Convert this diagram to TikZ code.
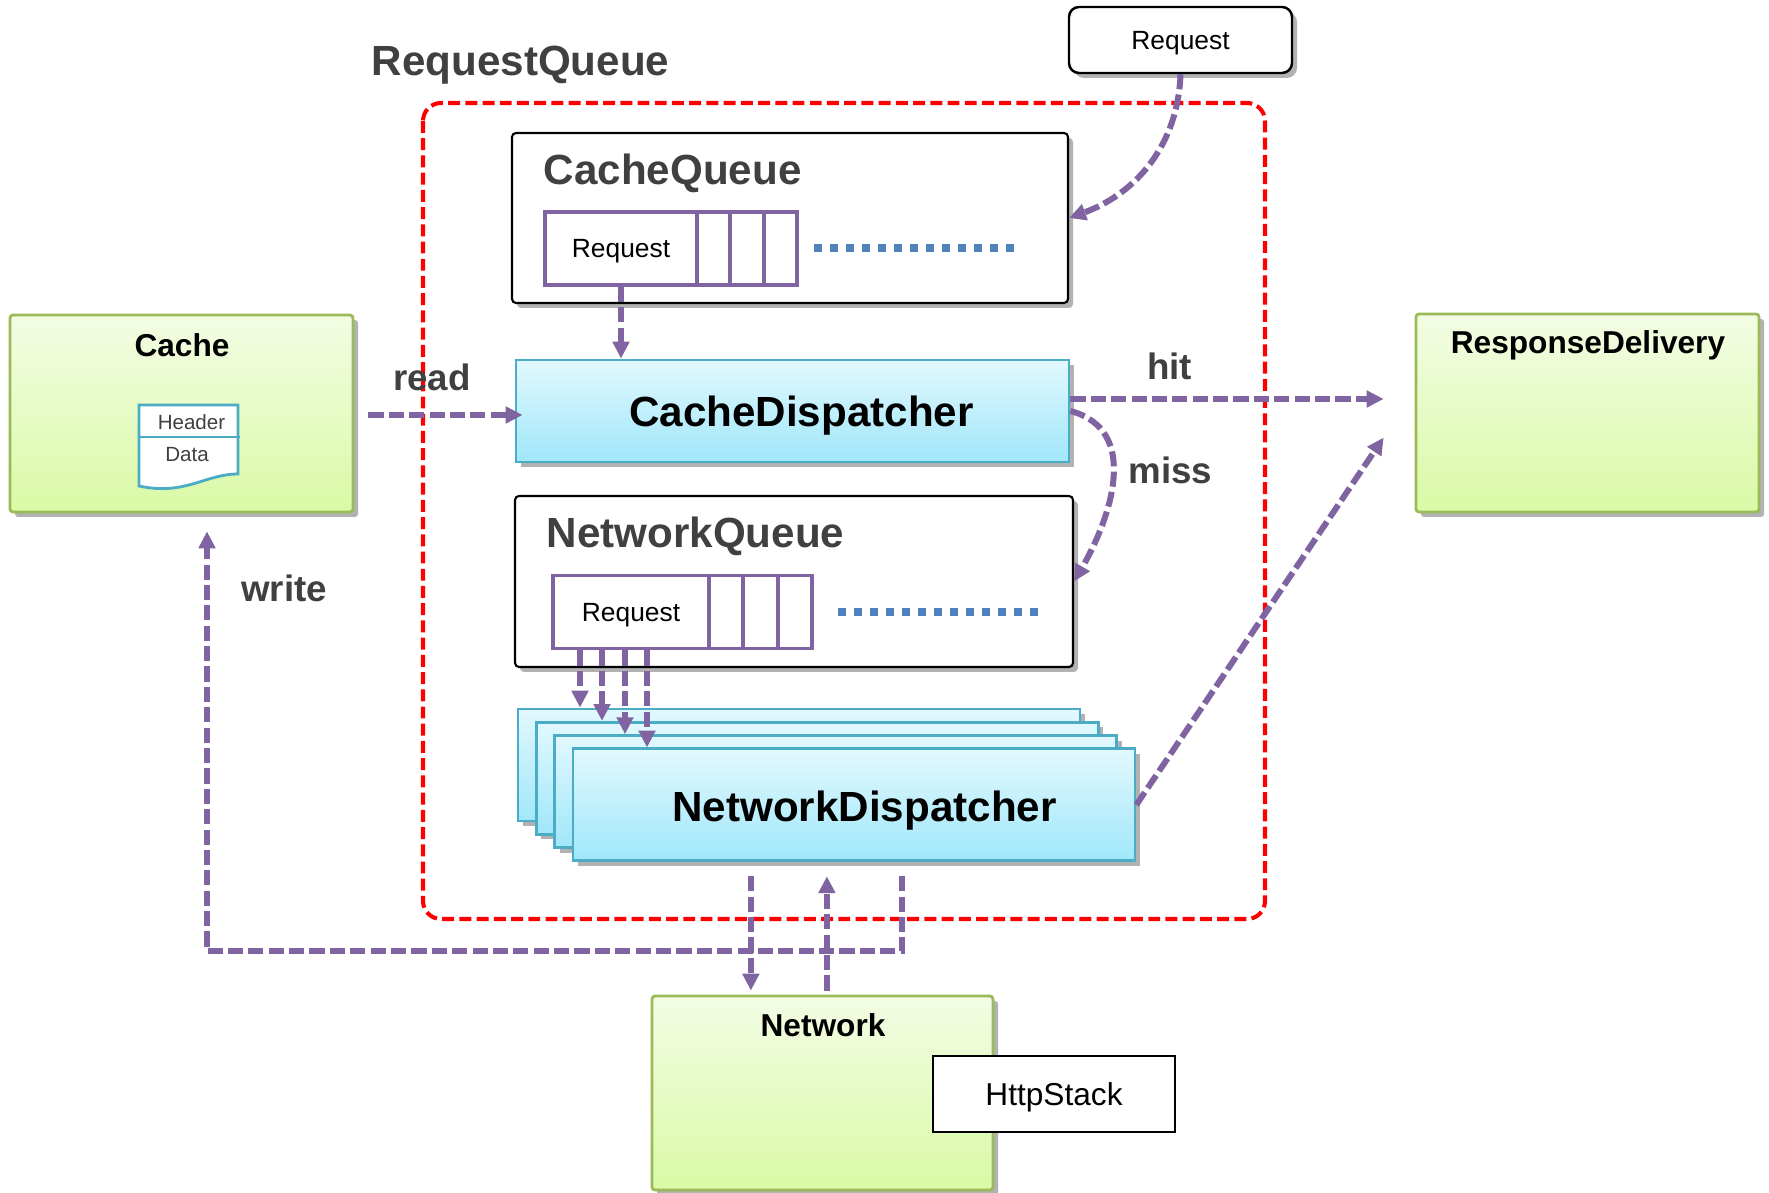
\documentclass[tikz,border=0pt]{standalone}
\usepackage{fontspec}
\setmainfont{Liberation Sans}
\usetikzlibrary{arrows.meta,shadows}

\definecolor{viola}{HTML}{8064A2}
\definecolor{grigio}{HTML}{404040}
\definecolor{blu}{HTML}{4F81BD}
\definecolor{cianob}{HTML}{4BACC6}
\definecolor{ciano1}{RGB}{226,248,254}
\definecolor{ciano2}{RGB}{160,231,250}
\definecolor{verdeb}{HTML}{9BBB59}
\definecolor{verde1}{RGB}{243,252,228}
\definecolor{verde2}{RGB}{217,250,166}

\tikzset{
  ombra/.style={drop shadow={shadow xshift=0.05cm, shadow yshift=-0.05cm, opacity=0.3, fill=black}},
  freccia/.style={draw=viola, line width=1.7pt, dash pattern=on 4.3pt off 1.5pt, -{Triangle[width=4.6pt,length=4.8pt]}},
  rqbordo/.style={draw=red, line width=1.15pt, dash pattern=on 3.4pt off 1.5pt, rounded corners=0.18cm},
  puntini/.style={draw=blu, line width=2.1pt, dash pattern=on 2.3pt off 2.25pt},
  qbox/.style={draw=black, line width=0.6pt, fill=white, rounded corners=0.04cm, inner sep=0pt, ombra},
  qcell/.style={draw=viola, line width=1.1pt, fill=white, inner sep=0pt, minimum height=0.73cm,
    font=\fontsize{7.5}{9}\selectfont, text height=5.4pt, text depth=0pt},
  reqbox/.style={draw=black, line width=0.7pt, fill=white, rounded corners=0.1cm, inner sep=0pt, ombra,
    font=\fontsize{7.5}{9}\selectfont, text height=5.4pt, text depth=0pt},
  httpbox/.style={draw=black, line width=0.7pt, fill=white, inner sep=0pt,
    font=\fontsize{9}{11}\selectfont, text height=6.45pt, text depth=0pt},
  ciano/.style={draw=cianob, line width=0.8pt, top color=ciano1, bottom color=ciano2, inner sep=0pt, ombra},
  verde/.style={draw=verdeb, line width=0.8pt, top color=verde1, bottom color=verde2, rounded corners=0.03cm, inner sep=0pt, ombra},
  doc/.style={draw=cianob, line width=0.8pt, fill=white},
  titolo/.style={font=\bfseries\fontsize{12}{14}\selectfont, text=grigio, inner sep=0pt, anchor=base west},
  disp/.style={font=\bfseries\fontsize{12}{14}\selectfont, inner sep=0pt, anchor=base},
  etich/.style={font=\bfseries\fontsize{10.45}{12}\selectfont, text=grigio, inner sep=0pt, anchor=base},
  nome/.style={font=\bfseries\fontsize{9}{11}\selectfont, inner sep=0pt, anchor=base},
  piccolo/.style={font=\fontsize{5.85}{7}\selectfont, text=grigio, inner sep=0pt, anchor=base}
}

\begin{document}
\begin{tikzpicture}
  \useasboundingbox (0,0) rectangle (17.69,-11.93);
  \fill[white] (0,0) rectangle (17.69,-11.93);

  % Contorno della RequestQueue
  \draw[rqbordo] (4.23,-1.03) rectangle (12.65,-9.19);
  \node[titolo] (rqtit) at (3.71,-0.76) {RequestQueue};

  % Richiesta in ingresso
  \node[reqbox, minimum width=2.23cm, minimum height=0.66cm] (req) at (11.805,-0.40) {Request};

  % CacheQueue
  \node[qbox, minimum width=5.56cm, minimum height=1.70cm] (cq) at (7.90,-2.18) {};
  \node[titolo] (cqtit) at (5.43,-1.85) {CacheQueue};
  \node[qcell, minimum width=1.52cm] (cqreq) at (6.21,-2.485) {Request};
  \foreach \i in {0,1,2}
    \node[qcell, minimum width=0.333cm] (cqc\i) at ({7.137+0.333*\i},-2.485) {};
  \draw[puntini] (8.14,-2.48) -- (10.15,-2.48);

  % CacheDispatcher
  \node[ciano, minimum width=5.53cm, minimum height=1.02cm] (cd) at (7.925,-4.11) {};
  \node[disp] (cdtxt) at (8.015,-4.27) {CacheDispatcher};

  % NetworkQueue
  \node[qbox, minimum width=5.58cm, minimum height=1.71cm] (nq) at (7.94,-5.815) {};
  \node[titolo] (nqtit) at (5.46,-5.48) {NetworkQueue};
  \node[qcell, minimum width=1.56cm] (nqreq) at (6.31,-6.12) {Request};
  \foreach \i in {0,1,2}
    \node[qcell, minimum width=0.343cm] (nqc\i) at ({7.262+0.343*\i},-6.12) {};
  \draw[puntini] (8.38,-6.12) -- (10.39,-6.12);

  % NetworkDispatcher (quattro copie sovrapposte)
  \foreach \i in {1,...,4}
    \node[ciano, minimum width=5.62cm, minimum height=1.12cm] (nd\i) at ({7.99+0.183*(\i-1)},{-7.65-0.133*(\i-1)}) {};
  \node[disp] (ndtxt) at (8.645,-8.22) {NetworkDispatcher};

  % Cache
  \node[verde, minimum width=3.43cm, minimum height=1.97cm] (cache) at (1.815,-4.135) {};
  \node[nome] (cachetit) at (1.82,-3.57) {Cache};
  \draw[doc] (1.39,-4.05) -- (2.38,-4.05) -- (2.38,-4.74)
    .. controls (2.05,-4.74) and (1.85,-4.96) .. (1.39,-4.86) -- cycle;
  \draw[doc] (1.39,-4.37) -- (2.40,-4.37);
  \node[piccolo] (header) at (1.915,-4.30) {Header};
  \node[piccolo] (data) at (1.87,-4.62) {Data};

  % ResponseDelivery
  \node[verde, minimum width=3.43cm, minimum height=1.98cm] (rd) at (15.875,-4.13) {};
  \node[nome] (rdtit) at (15.88,-3.54) {ResponseDelivery};

  % Network e HttpStack
  \node[verde, minimum width=3.41cm, minimum height=1.94cm] (net) at (8.225,-10.93) {};
  \node[nome] (nettit) at (8.23,-10.37) {Network};
  \node[httpbox, minimum width=2.42cm, minimum height=0.76cm] (http) at (10.54,-10.94) {HttpStack};

  % Frecce
  \draw[freccia] (req.south) to[out=-92, in=20] (cq.east);
  \draw[freccia] (cqreq.south) -- (cqreq.south |- cd.north);
  \draw[freccia, shorten <=0.14cm, shorten >=-0.08cm] ([yshift=-0.04cm]cache.east |- cd.west) -- ([yshift=-0.04cm]cd.west);
  \draw[freccia, shorten >=0.31cm] ([yshift=0.12cm]cd.east) -- ([yshift=0.12cm]cd.east -| rd.west);
  \draw[freccia] (cd.east) to[out=-15, in=60, looseness=1.1] (nq.east);
  \foreach \i/\dx in {1/-0.51, 2/-0.29, 3/-0.06, 4/0.16}
    \draw[freccia] ([xshift=\dx cm]nqreq.south) -- ([xshift=\dx cm]nqreq.south |- nd\i.north);
  \draw[freccia] (nd4.east) -- ([xshift=-0.31cm, yshift=-1.25cm]rd.north west);
  \draw[freccia, shorten <=0.14cm, shorten >=0.04cm] ([xshift=-1.03cm]nd4.south) -- ([xshift=-1.03cm]nd4.south |- net.north);
  \draw[freccia, shorten <=0.04cm, shorten >=0.14cm] ([xshift=-0.27cm]nd4.south |- net.north) -- ([xshift=-0.27cm]nd4.south);
  \draw[freccia, shorten <=0.14cm, shorten >=0.18cm] ([xshift=0.48cm]nd4.south) -- ++(0,-0.89) -| ([xshift=0.255cm]cache.south);

  % Etichette delle frecce
  \node[etich] (read) at (4.32,-3.91) {read};
  \node[etich] (hit) at (11.695,-3.80) {hit};
  \node[etich] (miss) at (11.705,-4.84) {miss};
  \node[etich] (write) at (2.84,-6.02) {write};
\end{tikzpicture}
\end{document}
